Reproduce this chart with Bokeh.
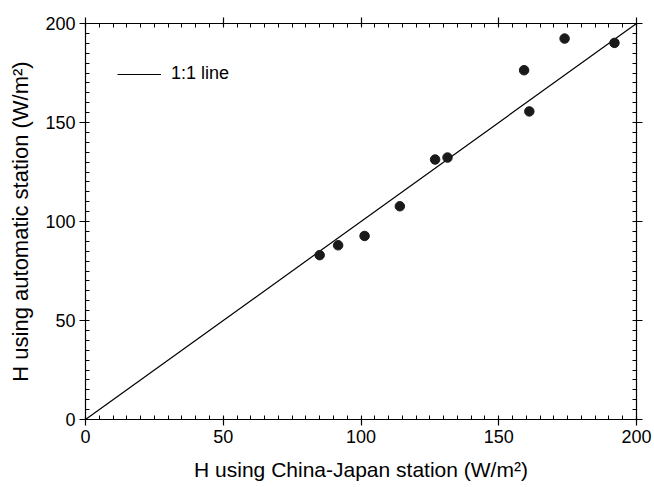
from bokeh.plotting import figure
from bokeh.models import (Range1d, LinearAxis, SingleIntervalTicker, CustomJSTickFormatter,
                          Legend, LegendItem)
from bokeh.embed import file_html
from bokeh.resources import INLINE

# Data
h_china_japan = [85.0, 91.7, 101.3, 114.1, 126.9, 131.4, 159.2, 161.1, 173.9, 192.0]
h_automatic = [83.0, 88.0, 92.7, 107.7, 131.3, 132.3, 176.4, 155.6, 192.4, 190.2]
one_to_one = [0, 200]
x_title = "H using China-Japan station (W/m²)"
y_title = "H using automatic station (W/m²)"
legend_label = "1:1 line"

FONT = "Liberation Sans"

p = figure(width=654, height=487, output_backend="svg", toolbar_location=None,
           x_range=Range1d(0, 200), y_range=Range1d(0, 200),
           min_border_left=85, min_border_right=18, min_border_top=23, min_border_bottom=68)
p.outline_line_color = None
p.xgrid.visible = False
p.ygrid.visible = False
p.background_fill_color = "white"
p.border_fill_color = "white"

def style_axis(ax, labels=True):
    ax.ticker = SingleIntervalTicker(interval=50, num_minor_ticks=10)
    ax.axis_line_color = "black"
    ax.axis_line_width = 1.2
    ax.major_tick_line_color = "black"
    ax.minor_tick_line_color = "black"
    ax.major_tick_line_width = 1.2
    ax.minor_tick_line_width = 1
    ax.major_tick_out = 6
    ax.major_tick_in = 3
    ax.minor_tick_out = 0
    ax.minor_tick_in = 4
    ax.major_label_text_font = FONT
    ax.major_label_text_font_size = "18px"
    ax.major_label_text_color = "black"
    ax.major_label_standoff = 4
    ax.axis_label_text_font = FONT
    ax.axis_label_text_font_style = "normal"
    ax.axis_label_text_color = "black"
    if not labels:
        ax.formatter = CustomJSTickFormatter(code="return ''")
        ax.major_label_standoff = 0

for ax in p.xaxis:
    style_axis(ax)
    ax.axis_label = x_title
    ax.axis_label_text_font_size = "21px"
    ax.axis_label_standoff = 12
for ax in p.yaxis:
    style_axis(ax)
    ax.axis_label = y_title
    ax.axis_label_text_font_size = "22px"
    ax.axis_label_standoff = 9

top = LinearAxis()
style_axis(top, labels=False)
p.add_layout(top, "above")
right = LinearAxis()
style_axis(right, labels=False)
p.add_layout(right, "right")

line = p.line(one_to_one, one_to_one, line_color="black", line_width=1.2)
p.scatter(h_china_japan, h_automatic, size=9.5, fill_color="#1a1a1a", line_color="#1a1a1a")

legend = Legend(items=[LegendItem(label=legend_label, renderers=[line])],
                location=(32, 335), glyph_width=44, glyph_height=20, label_standoff=10,
                padding=0, margin=0, border_line_color=None, background_fill_alpha=0,
                label_text_font=FONT, label_text_font_size="18px", label_text_color="black")
p.add_layout(legend, "center")

open("out.html", "w").write(file_html(p, INLINE))
